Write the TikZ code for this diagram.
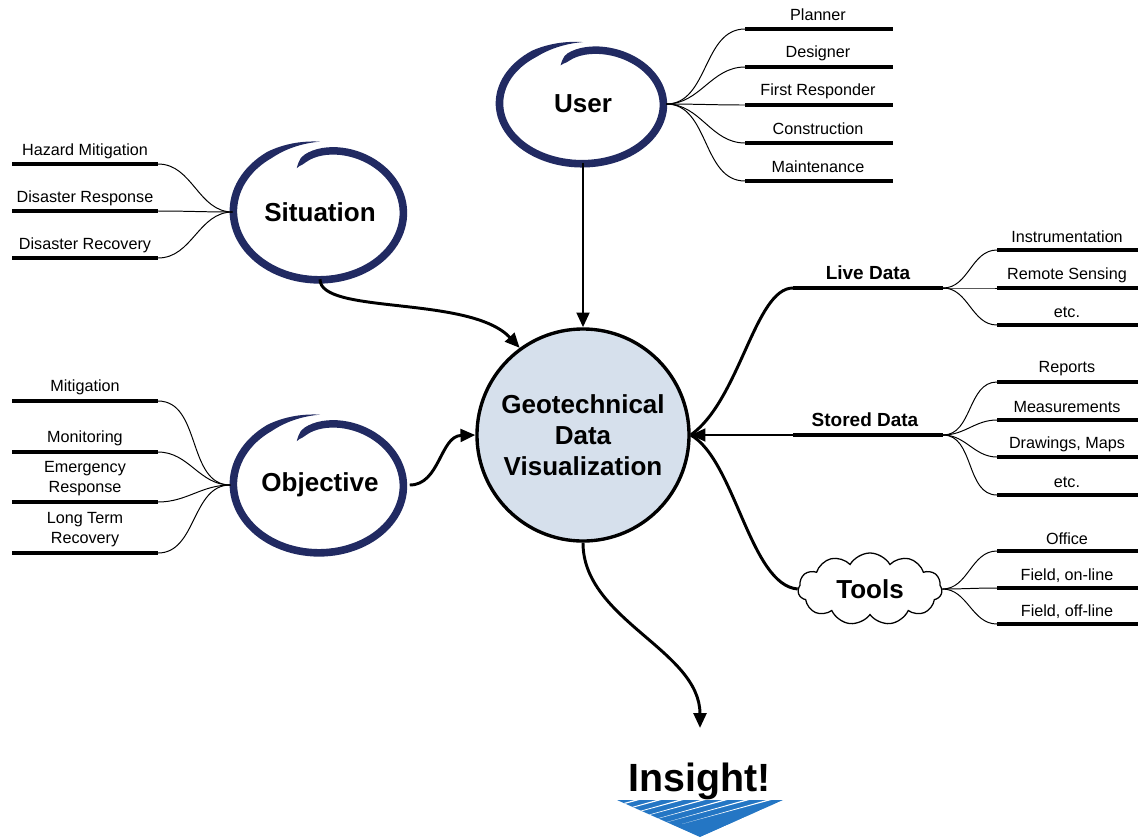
\documentclass[tikz,border=0pt]{standalone}
\usepackage{fontspec}
\setmainfont{Liberation Sans}
\usetikzlibrary{shapes.geometric,shapes.symbols,arrows.meta}
\definecolor{scribblecol}{RGB}{33,42,98}
\definecolor{hubfill}{RGB}{214,224,236}
\definecolor{insightblue}{RGB}{36,118,196}
\tikzset{
  declare function={scrr(\a)=0.97+0.08*(\a+113)/383-0.26*exp(-(\a+113)/20);
                    scww(\a)=3.8*min(1,min((\a+113)/8,(270-\a)/35));},
  leaf/.style={font=\fontsize{11.5}{14.2}\selectfont,align=center,inner sep=0pt},
  topic/.style={font=\bfseries\fontsize{18.5}{22}\selectfont,align=center},
  branch/.style={font=\bfseries\fontsize{13.5}{16}\selectfont,inner sep=0pt}
}
\newcommand{\scribble}[4]{%
  \fill[scribblecol]
    plot[domain=-113:270,samples=110,variable=\t]
      ({#1+(#3*scrr(\t)+scww(\t))*cos(\t)},{#2+(#4*scrr(\t)+scww(\t))*sin(\t)})
    -- plot[domain=270:-113,samples=110,variable=\t]
      ({#1+(#3*scrr(\t)-scww(\t))*cos(\t)},{#2+(#4*scrr(\t)-scww(\t))*sin(\t)})
    -- cycle;}
\begin{document}
\begin{tikzpicture}[x=0.025cm,y=-0.025cm,
  bar/.style={line width=3.2pt},
  fan/.style={line width=0.7pt},
  flow/.style={line width=2.1pt},
  arr/.style={flow,-{Triangle[length=10.5pt,width=9pt]}}]
\useasboundingbox (0,0) rectangle (1138,837);

\node[draw,circle,line width=2.4pt,fill=hubfill,minimum size=5.3cm,topic] (hub) at (583,435) {Geotechnical\\Data\\Visualization};

\node[ellipse,topic,minimum width=4.15cm,minimum height=2.95cm] (user) at (583,104) {User};
\node[ellipse,topic,minimum width=4.35cm,minimum height=3.35cm] (situation) at (320,212) {Situation};
\node[ellipse,topic,minimum width=4.35cm,minimum height=3.35cm] (objective) at (320,485) {Objective};
\scribble{583}{104}{81}{59}
\scribble{320}{212}{84}{67}
\scribble{320}{485}{84}{67}

\foreach \n/\txt/\y in {planner/Planner/29,designer/Designer/67,responder/First Responder/105,construction/Construction/143,maintenance/Maintenance/181}{
  \node[leaf] (\n) at (818,\y-14) {\txt};
  \coordinate (\n-l) at (745,\y);
  \coordinate (\n-r) at (893,\y);
  \draw[bar] (\n-l) -- (\n-r);
  \draw[fan] (user.east) to[out=0,in=180] (\n-l);
}

\foreach \n/\txt/\y in {hazard/Hazard Mitigation/164,response/Disaster Response/211,recovery/Disaster Recovery/258}{
  \node[leaf] (\n) at (85,\y-13) {\txt};
  \coordinate (\n-l) at (12,\y);
  \coordinate (\n-r) at (158,\y);
  \draw[bar] (\n-l) -- (\n-r);
  \draw[fan] (situation.west) to[out=180,in=0] (\n-r);
}

\foreach \n/\txt/\y/\d in {mitigation/Mitigation/401/14,monitoring/Monitoring/452/14,emergency/{Emergency\\Response}/502/23,longterm/{Long Term\\Recovery}/553/23}{
  \node[leaf] (\n) at (85,\y-\d) {\txt};
  \coordinate (\n-l) at (12,\y);
  \coordinate (\n-r) at (158,\y);
  \draw[bar] (\n-l) -- (\n-r);
  \draw[fan] (objective.west) to[out=180,in=0] (\n-r);
}

\node[branch] (live) at (868,273) {Live Data};
\coordinate (live-l) at (793,288);
\coordinate (live-r) at (943,288);
\node[branch] (stored) at (865,420) {Stored Data};
\coordinate (stored-l) at (793,435);
\coordinate (stored-r) at (943,435);
\node[cloud,draw,line width=0.9pt,fill=white,cloud puffs=11,cloud puff arc=120,aspect=2,minimum width=3.6cm,minimum height=1.8cm,inner sep=0pt,topic] (tools) at (870,589) {Tools};
\draw[bar] (live-l) -- (live-r);
\draw[bar] (stored-l) -- (stored-r);

\foreach \n/\txt/\y in {instrumentation/Instrumentation/250,remote/Remote Sensing/288,liveetc/etc./325}{
  \node[leaf] (\n) at (1067,\y-13) {\txt};
  \coordinate (\n-l) at (997,\y);
  \coordinate (\n-r) at (1138,\y);
  \draw[bar] (\n-l) -- (\n-r);
  \draw[fan] (live-r) to[out=0,in=180] (\n-l);
}

\foreach \n/\txt/\y in {reports/Reports/382,measurements/Measurements/420,drawings/{Drawings, Maps}/457,storedetc/etc./495}{
  \node[leaf] (\n) at (1067,\y-13) {\txt};
  \coordinate (\n-l) at (997,\y);
  \coordinate (\n-r) at (1138,\y);
  \draw[bar] (\n-l) -- (\n-r);
  \draw[fan] (stored-r) to[out=0,in=180] (\n-l);
}

\foreach \n/\txt/\y in {office/Office/551,online/{Field, on-line}/588,offline/{Field, off-line}/624}{
  \node[leaf] (\n) at (1067,\y-12) {\txt};
  \coordinate (\n-l) at (997,\y);
  \coordinate (\n-r) at (1138,\y);
  \draw[bar] (\n-l) -- (\n-r);
  \draw[fan] (tools.east) to[out=0,in=180] (\n-l);
}

\draw[arr] (user) -- (hub);
\draw[arr] (situation.south) .. controls (320,315) and (470,295) .. (hub.126);
\draw[arr] (objective.east) .. controls (440,485) and (440,436) .. (hub.west);
\draw[flow] (live-l) .. controls (755,288) and (740,400) .. (hub.east);
\draw[flow] (hub.east) .. controls (735,460) and (750,585) .. (tools.west);
\draw[arr] (stored-l) -- (hub.east);

\node[font=\bfseries\fontsize{28}{30}\selectfont,anchor=north,inner xsep=0pt,inner ysep=24.5pt] (insight) at (700,728) {Insight!};
\draw[arr] (hub.south) .. controls (583,620) and (700,650) .. (insight.north);

\begin{scope}
  \clip (617,800) -- (783,800) -- (700,837) -- cycle;
  \fill[insightblue] (617,800) -- (783,800) -- (700,837) -- cycle;
  \foreach \x in {640,662,684,706,728,750,772}
    \fill[white] (\x-2,799) -- (\x+3,799) -- (\x-90,824) -- cycle;
\end{scope}
\end{tikzpicture}
\end{document}
